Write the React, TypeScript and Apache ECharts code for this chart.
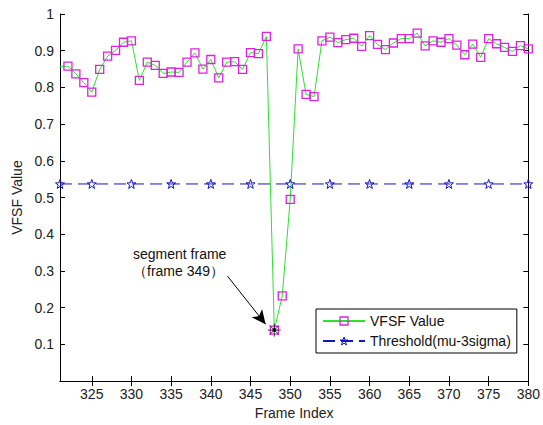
import React, { useEffect, useRef } from 'react';
import * as echarts from 'echarts';

const frames = [
  321, 322, 323, 324, 325, 326, 327, 328, 329, 330,
  331, 332, 333, 334, 335, 336, 337, 338, 339, 340,
  341, 342, 343, 344, 345, 346, 347, 348, 349, 350,
  351, 352, 353, 354, 355, 356, 357, 358, 359, 360,
  361, 362, 363, 364, 365, 366, 367, 368, 369, 370,
  371, 372, 373, 374, 375, 376, 377, 378, 379, 380,
];
const vfsfValues = [
  0.856, 0.858, 0.837, 0.813, 0.787, 0.849, 0.885, 0.901, 0.923, 0.927,
  0.819, 0.869, 0.860, 0.838, 0.842, 0.841, 0.869, 0.894, 0.850, 0.876,
  0.826, 0.869, 0.870, 0.849, 0.895, 0.892, 0.939, 0.139, 0.232, 0.495,
  0.905, 0.781, 0.775, 0.927, 0.937, 0.922, 0.930, 0.934, 0.912, 0.941,
  0.917, 0.903, 0.921, 0.933, 0.933, 0.948, 0.913, 0.927, 0.923, 0.933,
  0.915, 0.889, 0.918, 0.882, 0.933, 0.919, 0.909, 0.898, 0.914, 0.905,
];
const thresholdFrames = [321, 325, 330, 335, 340, 345, 350, 355, 360, 365, 370, 375, 380];
const thresholdValue = 0.537;
const xTickValues = [325, 330, 335, 340, 345, 350, 355, 360, 365, 370, 375, 380];
const annotationLines = ['segment frame', '（frame 349）'];
const arrowStart = [342.1, 0.286];
const arrowEnd = [346.9, 0.155];

const FONT = '"Liberation Sans", Arial, Helvetica, sans-serif';
const STAR =
  'path://M0,-10L2.35,-3.24L9.51,-3.09L3.8,1.24L5.88,8.09L0,4L-5.88,8.09L-3.8,1.24L-9.51,-3.09L-2.35,-3.24Z';
const ASTERISK = 'path://M0,-10L0,10M-10,0L10,0M-7,-7L7,7M-7,7L7,-7';
const MAGENTA = '#e020e0';
const GREEN = '#2fe02f';
const BLUE = '#1515c0';
const CLEAR = 'rgba(255,255,255,0)';

export default function App() {
  const ref = useRef<HTMLDivElement>(null);

  useEffect(() => {
    if (!ref.current) return;
    const chart = echarts.init(ref.current, null, { renderer: 'svg' });

    const vfsfData = frames.map((f, i) =>
      i === 0
        ? { value: [f, vfsfValues[i]], symbol: 'none' }
        : { value: [f, vfsfValues[i]] }
    );
    const thrData = thresholdFrames.map((f) => [f, thresholdValue]);
    let minIdx = 0;
    vfsfValues.forEach((v, i) => {
      if (v < vfsfValues[minIdx]) minIdx = i;
    });
    const segPoint = [frames[minIdx], vfsfValues[minIdx]];

    const axisLineStyle = { color: '#000', width: 1 };
    const labelStyle = { color: '#222', fontSize: 14, fontFamily: FONT };

    chart.setOption({
      animation: false,
      backgroundColor: '#fff',
      grid: { left: 60, right: 13, top: 14, bottom: 41, containLabel: false },
      xAxis: [
        {
          type: 'value',
          min: 321,
          max: 380,
          name: 'Frame Index',
          nameLocation: 'middle',
          nameGap: 23,
          nameTextStyle: { color: '#222', fontSize: 14, fontFamily: FONT },
          axisLine: { show: true, lineStyle: axisLineStyle },
          axisTick: { show: true, inside: true, length: 5, customValues: xTickValues, lineStyle: axisLineStyle },
          axisLabel: { ...labelStyle, margin: 6, customValues: xTickValues, showMinLabel: true, showMaxLabel: true },
          splitLine: { show: false },
        },
        {
          type: 'value',
          position: 'top',
          min: 321,
          max: 380,
          axisLine: { show: true, lineStyle: axisLineStyle },
          axisTick: { show: true, inside: true, length: 5, customValues: xTickValues, lineStyle: axisLineStyle },
          axisLabel: { show: false },
          splitLine: { show: false },
        },
      ],
      yAxis: [
        {
          type: 'value',
          min: 0,
          max: 1,
          interval: 0.1,
          name: 'VFSF Value',
          nameLocation: 'middle',
          nameGap: 32,
          nameRotate: 90,
          nameTextStyle: { color: '#222', fontSize: 14, fontFamily: FONT },
          axisLine: { show: true, lineStyle: axisLineStyle },
          axisTick: { show: true, inside: true, length: 5, lineStyle: axisLineStyle },
          axisLabel: {
            ...labelStyle,
            margin: 6,
            formatter: (v: number) => (v === 0 ? '' : String(Number(v.toFixed(1)))),
          },
          splitLine: { show: false },
        },
        {
          type: 'value',
          position: 'right',
          min: 0,
          max: 1,
          interval: 0.1,
          axisLine: { show: true, lineStyle: axisLineStyle },
          axisTick: { show: true, inside: true, length: 5, lineStyle: axisLineStyle },
          axisLabel: { show: false },
          splitLine: { show: false },
        },
      ],
      legend: {
        orient: 'vertical',
        left: 316,
        top: 309,
        data: [
          {
            name: 'VFSF Value',
            itemStyle: { color: CLEAR, borderColor: MAGENTA, borderWidth: 1.3 },
          },
          {
            name: 'Threshold(mu-3sigma)',
            itemStyle: { color: CLEAR, borderColor: BLUE, borderWidth: 1 },
          },
        ],
        itemWidth: 42,
        itemHeight: 10,
        itemGap: 6,
        padding: [5, 6, 5, 6],
        borderColor: '#000',
        borderWidth: 1,
        borderRadius: 0,
        backgroundColor: '#fff',
        textStyle: { fontSize: 14, color: '#111', fontFamily: FONT },
      },
      graphic: [
        {
          type: 'text',
          left: 133,
          top: 245,
          z: 100,
          style: {
            text: annotationLines.join('\n'),
            font: `14px ${FONT}`,
            fill: '#111',
            align: 'center',
            lineHeight: 17,
            x: 45,
          },
        },
      ],
      series: [
        {
          name: 'VFSF Value',
          type: 'line',
          data: vfsfData,
          clip: false,
          symbol: 'rect',
          symbolSize: 8,
          showAllSymbol: true,
          lineStyle: { color: GREEN, width: 1 },
          itemStyle: { color: CLEAR, borderColor: MAGENTA, borderWidth: 1.3 },
          z: 2,
        },
        {
          name: 'Threshold(mu-3sigma)',
          type: 'line',
          data: thrData,
          clip: false,
          symbol: STAR,
          symbolSize: 9,
          lineStyle: { color: BLUE, width: 1, type: [12, 6] },
          itemStyle: { color: CLEAR, borderColor: BLUE, borderWidth: 1 },
          z: 3,
        },
        {
          name: 'segment',
          type: 'scatter',
          data: [segPoint],
          symbol: ASTERISK,
          symbolSize: 13,
          itemStyle: { color: 'rgba(0,0,0,0)', borderColor: '#111', borderWidth: 1 },
          z: 4,
          markLine: {
            silent: true,
            symbol: ['none', 'arrow'],
            symbolSize: [10, 14],
            lineStyle: { color: '#000', width: 1, type: 'solid' },
            label: { show: false },
            data: [[{ coord: arrowStart }, { coord: arrowEnd }]],
          },
        },
        {
          name: 'segdot',
          type: 'scatter',
          data: [segPoint],
          symbol: 'circle',
          symbolSize: 4,
          itemStyle: { color: '#000' },
          z: 5,
        },
      ],
    });

    return () => chart.dispose();
  }, []);

  return (
    <div
      ref={ref}
      style={{ position: 'fixed', left: 0, top: 0, width: 543, height: 425, background: '#fff' }}
    />
  );
}
